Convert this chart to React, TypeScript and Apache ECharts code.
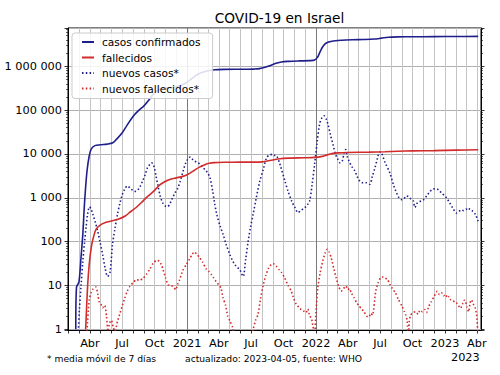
import React, { useEffect, useRef } from 'react';
import * as echarts from 'echarts';

const TITLE = 'COVID-19 en Israel';
const SERIES_NAMES = ['casos confirmados', 'fallecidos', 'nuevos casos*', 'nuevos fallecidos*'];
const MONTHS_ES = ['Ene', 'Feb', 'Mar', 'Abr', 'May', 'Jun', 'Jul', 'Ago', 'Sep', 'Oct', 'Nov', 'Dic'];
const FOOT_LEFT = '* media móvil de 7 días';
const FOOT_RIGHT = 'actualizado: 2023-04-05, fuente: WHO';
const YEAR_OFFSET = '2023';
const YEAR_LINES = ['2021-01-01', '2022-01-01'];

const casosConfirmados: [string, number][] = [
  ['2020-02-21', 1], ['2020-02-23', 9], ['2020-03-01', 12], ['2020-03-07', 45], ['2020-03-12', 150],
  ['2020-03-16', 600], ['2020-03-20', 1800], ['2020-03-24', 4200], ['2020-03-30', 9000], ['2020-04-05', 13000],
  ['2020-04-15', 15500], ['2020-05-01', 16200], ['2020-05-20', 16800], ['2020-06-05', 18000], ['2020-06-15', 21500],
  ['2020-07-01', 30000], ['2020-07-15', 45000], ['2020-08-01', 72000], ['2020-08-15', 95000], ['2020-09-01', 125000],
  ['2020-09-15', 170000], ['2020-10-01', 250000], ['2020-10-15', 295000], ['2020-11-01', 315000], ['2020-11-20', 330000],
  ['2020-12-10', 355000], ['2020-12-25', 400000], ['2021-01-10', 490000], ['2021-01-25', 610000], ['2021-02-10', 710000],
  ['2021-03-01', 790000], ['2021-03-20', 835000], ['2021-04-15', 852000], ['2021-06-20', 860000], ['2021-07-10', 866000],
  ['2021-07-25', 885000], ['2021-08-10', 950000], ['2021-08-25', 1050000], ['2021-09-10', 1170000], ['2021-09-25', 1260000],
  ['2021-10-15', 1300000], ['2021-11-15', 1330000], ['2021-12-15', 1350000], ['2021-12-28', 1400000], ['2022-01-05', 1600000],
  ['2022-01-12', 2100000], ['2022-01-20', 2800000], ['2022-01-30', 3400000], ['2022-02-15', 3750000], ['2022-03-15', 3950000],
  ['2022-04-15', 4050000], ['2022-05-15', 4100000], ['2022-06-15', 4200000], ['2022-07-05', 4400000], ['2022-07-25', 4620000],
  ['2022-08-20', 4700000], ['2022-10-01', 4730000], ['2022-12-01', 4770000], ['2023-02-01', 4800000], ['2023-04-05', 4820000],
];

const fallecidos: [string, number][] = [
  ['2020-03-20', 1], ['2020-03-25', 8], ['2020-03-30', 30], ['2020-04-05', 75], ['2020-04-12', 135],
  ['2020-04-19', 195], ['2020-05-01', 240], ['2020-05-15', 272], ['2020-06-01', 295], ['2020-06-20', 325],
  ['2020-07-10', 385], ['2020-07-25', 480], ['2020-08-10', 600], ['2020-08-25', 780], ['2020-09-10', 1050],
  ['2020-09-28', 1400], ['2020-10-15', 1950], ['2020-10-31', 2350], ['2020-11-15', 2650], ['2020-12-01', 2850],
  ['2020-12-20', 3080], ['2021-01-05', 3500], ['2021-01-20', 4150], ['2021-02-05', 5000], ['2021-02-20', 5700],
  ['2021-03-05', 6150], ['2021-03-20', 6350], ['2021-04-15', 6450], ['2021-06-01', 6500], ['2021-07-15', 6520],
  ['2021-08-01', 6600], ['2021-08-15', 6900], ['2021-09-01', 7300], ['2021-09-20', 7800], ['2021-10-15', 8050],
  ['2021-12-01', 8200], ['2021-12-28', 8350], ['2022-01-15', 8700], ['2022-01-30', 9400], ['2022-02-15', 10200],
  ['2022-03-05', 10600], ['2022-04-01', 10800], ['2022-06-01', 11000], ['2022-07-15', 11250], ['2022-08-20', 11550],
  ['2022-10-01', 11750], ['2022-12-01', 11950], ['2023-02-01', 12250], ['2023-04-05', 12450],
];

const nuevosCasos: [string, number][] = [
  ['2020-02-21', 0.5], ['2020-02-28', 1], ['2020-03-02', 2.6], ['2020-03-07', 10], ['2020-03-12', 36],
  ['2020-03-17', 100], ['2020-03-21', 210], ['2020-03-26', 450], ['2020-03-31', 620], ['2020-04-04', 560],
  ['2020-04-09', 430], ['2020-04-16', 280], ['2020-04-23', 175], ['2020-04-30', 95], ['2020-05-07', 51],
  ['2020-05-14', 25], ['2020-05-21', 16], ['2020-05-28', 20], ['2020-06-04', 86], ['2020-06-11', 200],
  ['2020-06-18', 420], ['2020-06-25', 750], ['2020-07-02', 1200], ['2020-07-09', 1600], ['2020-07-16', 1860],
  ['2020-07-24', 1650], ['2020-07-31', 1480], ['2020-08-07', 1400], ['2020-08-14', 1500], ['2020-08-21', 1800],
  ['2020-08-28', 2400], ['2020-09-04', 3300], ['2020-09-11', 4900], ['2020-09-18', 5800], ['2020-09-23', 6300],
  ['2020-09-27', 5600], ['2020-09-30', 5000], ['2020-10-05', 3200], ['2020-10-10', 2000], ['2020-10-17', 1100],
  ['2020-10-24', 770], ['2020-10-31', 650], ['2020-11-07', 630], ['2020-11-14', 750], ['2020-11-21', 1000],
  ['2020-11-28', 1300], ['2020-12-05', 1600], ['2020-12-12', 2300], ['2020-12-21', 4100], ['2020-12-28', 6200],
  ['2021-01-04', 7800], ['2021-01-10', 8500], ['2021-01-16', 7600], ['2021-01-22', 6900], ['2021-01-29', 6400],
  ['2021-02-05', 6000], ['2021-02-14', 5000], ['2021-02-24', 4100], ['2021-03-02', 3500], ['2021-03-07', 2870],
  ['2021-03-14', 1500], ['2021-03-20', 750], ['2021-03-26', 420], ['2021-04-05', 220], ['2021-04-13', 146],
  ['2021-04-22', 85], ['2021-05-02', 51], ['2021-05-09', 38], ['2021-05-16', 30], ['2021-05-23', 26],
  ['2021-05-30', 23], ['2021-06-05', 18], ['2021-06-09', 16], ['2021-06-16', 40], ['2021-06-23', 103],
  ['2021-06-30', 220], ['2021-07-07', 420], ['2021-07-16', 1000], ['2021-07-26', 2400], ['2021-08-05', 4500],
  ['2021-08-14', 8200], ['2021-08-23', 9500], ['2021-09-02', 9800], ['2021-09-07', 9200], ['2021-09-12', 9000],
  ['2021-09-21', 5800], ['2021-10-05', 2400], ['2021-10-14', 1400], ['2021-10-24', 850], ['2021-11-03', 580],
  ['2021-11-11', 460], ['2021-11-20', 520], ['2021-11-30', 590], ['2021-12-08', 700], ['2021-12-14', 850],
  ['2021-12-21', 2000], ['2021-12-28', 5800], ['2022-01-04', 18000], ['2022-01-11', 47500], ['2022-01-18', 68000],
  ['2022-01-24', 74000], ['2022-01-30', 62000], ['2022-02-04', 47000], ['2022-02-11', 27000], ['2022-02-18', 16500],
  ['2022-02-25', 10000], ['2022-03-04', 7500], ['2022-03-10', 6300], ['2022-03-16', 6800], ['2022-03-22', 11000],
  ['2022-03-26', 12600], ['2022-03-30', 9000], ['2022-04-04', 7000], ['2022-04-12', 5200], ['2022-04-21', 4100],
  ['2022-04-28', 3000], ['2022-05-05', 2400], ['2022-05-14', 2200], ['2022-05-24', 2200], ['2022-06-02', 2030],
  ['2022-06-09', 3000], ['2022-06-17', 4900], ['2022-06-24', 8000], ['2022-06-30', 11000], ['2022-07-05', 10700],
  ['2022-07-15', 6500], ['2022-07-29', 3700], ['2022-08-08', 2000], ['2022-08-17', 1290], ['2022-08-24', 1000],
  ['2022-08-31', 910], ['2022-09-07', 950], ['2022-09-13', 1100], ['2022-09-19', 1070], ['2022-09-26', 950],
  ['2022-10-03', 860], ['2022-10-08', 600], ['2022-10-14', 750], ['2022-10-22', 820], ['2022-11-01', 900],
  ['2022-11-10', 1100], ['2022-11-20', 1400], ['2022-11-28', 1580], ['2022-12-05', 1600], ['2022-12-12', 1550],
  ['2022-12-22', 1300], ['2023-01-05', 1000], ['2023-01-15', 750], ['2023-01-25', 550], ['2023-02-02', 450],
  ['2023-02-09', 480], ['2023-02-16', 530], ['2023-02-23', 510], ['2023-03-02', 550], ['2023-03-08', 520],
  ['2023-03-12', 560], ['2023-03-20', 500], ['2023-03-28', 420], ['2023-04-05', 290],
];

const nuevosFallecidos: [string, number][] = [
  ['2020-03-20', 0.5], ['2020-03-24', 1], ['2020-03-30', 4.7], ['2020-04-05', 7], ['2020-04-10', 8.3],
  ['2020-04-18', 9.2], ['2020-04-23', 6.5], ['2020-04-27', 4.3], ['2020-05-02', 3.8], ['2020-05-07', 3.1],
  ['2020-05-13', 3.5], ['2020-05-18', 2], ['2020-05-22', 0.9], ['2020-05-27', 1.4], ['2020-06-01', 1.6],
  ['2020-06-06', 1.1], ['2020-06-11', 0.9], ['2020-06-18', 1.5], ['2020-06-25', 2.3], ['2020-07-02', 3.5],
  ['2020-07-09', 5.2], ['2020-07-16', 7.5], ['2020-07-23', 9.5], ['2020-08-01', 11.5], ['2020-08-11', 13.5],
  ['2020-08-20', 13], ['2020-08-30', 14.7], ['2020-09-08', 18], ['2020-09-17', 23], ['2020-09-27', 32],
  ['2020-10-06', 37], ['2020-10-14', 36], ['2020-10-20', 30], ['2020-10-25', 23], ['2020-11-01', 15],
  ['2020-11-08', 10.4], ['2020-11-15', 10], ['2020-11-22', 9.5], ['2020-11-30', 8], ['2020-12-06', 11],
  ['2020-12-11', 13.5], ['2020-12-20', 22], ['2020-12-30', 30], ['2021-01-08', 40], ['2021-01-16', 52],
  ['2021-01-22', 58], ['2021-01-28', 52], ['2021-02-05', 44], ['2021-02-14', 34], ['2021-02-24', 24],
  ['2021-03-03', 21], ['2021-03-10', 18], ['2021-03-17', 15], ['2021-03-24', 12.3], ['2021-03-31', 10.5],
  ['2021-04-07', 8.7], ['2021-04-13', 5.2], ['2021-04-20', 3.5], ['2021-04-26', 2], ['2021-05-03', 1.5],
  ['2021-05-10', 1.1], ['2021-05-20', 0.5], ['2021-06-01', 0.4], ['2021-06-15', 0.4], ['2021-06-28', 0.5],
  ['2021-07-07', 1], ['2021-07-14', 1.6], ['2021-07-21', 2.2], ['2021-07-28', 5], ['2021-08-04', 9.7],
  ['2021-08-12', 17], ['2021-08-20', 25], ['2021-08-27', 30], ['2021-09-03', 31], ['2021-09-10', 28],
  ['2021-09-18', 23], ['2021-09-25', 20], ['2021-10-04', 15], ['2021-10-14', 10], ['2021-10-23', 7.4],
  ['2021-10-30', 5], ['2021-11-06', 3.7], ['2021-11-13', 3.2], ['2021-11-20', 2.8], ['2021-11-27', 2.6],
  ['2021-12-04', 2.4], ['2021-12-09', 2.9], ['2021-12-14', 2.0], ['2021-12-19', 1.8], ['2021-12-23', 1.2],
  ['2021-12-28', 0.8], ['2022-01-01', 2.5], ['2022-01-06', 8.9], ['2022-01-13', 20], ['2022-01-20', 36],
  ['2022-01-27', 55], ['2022-02-02', 67], ['2022-02-07', 58], ['2022-02-13', 43], ['2022-02-20', 25],
  ['2022-02-27', 15], ['2022-03-06', 9.5], ['2022-03-13', 7.4], ['2022-03-20', 8.5], ['2022-03-27', 9.7],
  ['2022-04-01', 8], ['2022-04-05', 8.5], ['2022-04-12', 6.5], ['2022-04-19', 5.2], ['2022-04-26', 4],
  ['2022-05-03', 3.4], ['2022-05-10', 2.9], ['2022-05-17', 2.5], ['2022-05-24', 2.0], ['2022-05-31', 1.9],
  ['2022-06-05', 2.3], ['2022-06-10', 2.1], ['2022-06-19', 7.4], ['2022-06-26', 11.5], ['2022-07-03', 15],
  ['2022-07-10', 15.5], ['2022-07-16', 14.5], ['2022-07-22', 14], ['2022-07-29', 10.5], ['2022-08-05', 8.5],
  ['2022-08-14', 6.7], ['2022-08-22', 4.8], ['2022-09-02', 3.3], ['2022-09-08', 2.5], ['2022-09-12', 2.1],
  ['2022-09-16', 1.6], ['2022-09-19', 0.6], ['2022-09-22', 1.5], ['2022-09-26', 2.1], ['2022-10-03', 2.4],
  ['2022-10-10', 2.5], ['2022-10-17', 2.2], ['2022-10-22', 2.7], ['2022-10-29', 2.5], ['2022-11-05', 2.8],
  ['2022-11-10', 2.4], ['2022-11-16', 3.3], ['2022-11-23', 4.2], ['2022-12-01', 5.6], ['2022-12-06', 6.5],
  ['2022-12-10', 7.3], ['2022-12-16', 6.2], ['2022-12-22', 6.8], ['2022-12-28', 5.8], ['2023-01-03', 6.2],
  ['2023-01-08', 5.2], ['2023-01-13', 5.6], ['2023-01-17', 4.7], ['2023-01-24', 4.5], ['2023-01-30', 4.0],
  ['2023-02-04', 3.9], ['2023-02-09', 3.4], ['2023-02-14', 3.0], ['2023-02-20', 3.8], ['2023-02-25', 4.6],
  ['2023-02-28', 4.4], ['2023-03-04', 3.2], ['2023-03-09', 2.5], ['2023-03-13', 4.0], ['2023-03-17', 4.7],
  ['2023-03-22', 3.8], ['2023-03-28', 3.0], ['2023-04-01', 2.0], ['2023-04-04', 0.8],
];

const X_MIN = '2020-01-30';
const X_MAX = '2023-04-13';
const Y_MIN = 0.96;
const Y_MAX = 7.5e6;

const BLUE = '#1f1f8c';
const RED = '#d22b2b';
const FONT = 'DejaVu Sans';
const DAY = 86400000;

function fmtNum(v: number): string {
  const r = Math.round(v);
  return String(r).replace(/\B(?=(\d{3})+(?!\d))/g, ' ');
}

function xLabel(value: number): string {
  const d = new Date(value);
  if (d.getDate() !== 1 || d.getHours() !== 0) return '';
  const m = d.getMonth();
  if (m === 0) return String(d.getFullYear());
  if (m % 3 === 0) return MONTHS_ES[m];
  return '';
}

export default function App() {
  const ref = useRef<HTMLDivElement>(null);
  useEffect(() => {
    if (!ref.current) return;
    const chart = echarts.init(ref.current, null, { renderer: 'svg' });
    const dotted = [1.5, 2.3];
    const yAxisBase = {
      type: 'log',
      logBase: 10,
      min: Y_MIN,
      max: Y_MAX,
      axisLine: { show: true, lineStyle: { color: '#000', width: 1 } },
      axisTick: { show: true, length: 3.5, lineStyle: { color: '#000', width: 0.8 } },
      minorTick: { show: true, splitNumber: 9, length: 2, lineStyle: { color: '#000', width: 0.6 } },
    };
    chart.setOption({
      animation: false,
      backgroundColor: '#fff',
      textStyle: { fontFamily: FONT },
      title: {
        text: TITLE,
        left: 274.5,
        textAlign: 'center',
        top: 6,
        textStyle: { fontFamily: FONT, fontSize: 13.7, fontWeight: 'normal', color: '#000' },
      },
      grid: {
        left: 68, right: 19, top: 28, bottom: 45,
        show: true, borderColor: '#000', borderWidth: 1, backgroundColor: 'transparent',
      },
      legend: {
        orient: 'vertical',
        left: 72,
        top: 33,
        z: 20,
        data: SERIES_NAMES,
        backgroundColor: 'rgba(255,255,255,0.85)',
        borderColor: '#cccccc',
        borderWidth: 1,
        borderRadius: 3,
        padding: [3, 12, 4, 9],
        itemWidth: 12,
        itemHeight: 10,
        itemGap: 3.5,
        itemStyle: { opacity: 0, borderWidth: 0 },
        textStyle: { fontFamily: FONT, fontSize: 10.6, color: '#000', lineHeight: 12, padding: [0, 0, 0, 3] },
      },
      xAxis: {
        type: 'time',
        min: X_MIN,
        max: X_MAX,
        minInterval: 30 * DAY,
        maxInterval: 30 * DAY,
        axisLine: { show: true, lineStyle: { color: '#000', width: 1 } },
        axisTick: { show: true, length: 3.5, lineStyle: { color: '#000', width: 0.8 } },
        axisLabel: {
          formatter: xLabel,
          color: '#000',
          fontFamily: FONT,
          fontSize: 11.3,
          margin: 8,
          hideOverlap: false,
          showMinLabel: false,
          showMaxLabel: false,
        },
        splitLine: { show: true, lineStyle: { color: '#c4c4c4', width: 1 } },
      },
      yAxis: [
        {
          ...yAxisBase,
          position: 'left',
          axisLabel: {
            formatter: fmtNum,
            color: '#000',
            fontFamily: FONT,
            fontSize: 11.3,
            margin: 6,
            showMinLabel: false,
            showMaxLabel: false,
          },
          splitLine: { show: true, lineStyle: { color: '#b0b0b0', width: 1 } },
        },
        {
          ...yAxisBase,
          position: 'right',
          axisLabel: { show: false },
          splitLine: { show: false },
        },
      ],
      series: [
        {
          name: SERIES_NAMES[0], type: 'line', data: casosConfirmados, symbol: 'none', smooth: 0.3,
          lineStyle: { color: BLUE, width: 1.6 }, itemStyle: { color: BLUE }, z: 3,
          markLine: {
            silent: true, symbol: 'none', label: { show: false }, z: 1,
            lineStyle: { color: '#7a7a7a', width: 1, type: 'solid' },
            data: YEAR_LINES.map((d) => ({ xAxis: d })),
          },
        },
        {
          name: SERIES_NAMES[1], type: 'line', data: fallecidos, symbol: 'none', smooth: 0.3,
          lineStyle: { color: RED, width: 1.6 }, itemStyle: { color: RED }, z: 3,
        },
        {
          name: SERIES_NAMES[2], type: 'line', data: nuevosCasos, symbol: 'none', smooth: 0.3,
          lineStyle: { color: BLUE, width: 1.6, type: dotted, cap: 'butt' }, itemStyle: { color: BLUE }, z: 2,
        },
        {
          name: SERIES_NAMES[3], type: 'line', data: nuevosFallecidos, symbol: 'none', smooth: 0.2,
          lineStyle: { color: RED, width: 1.6, type: dotted, cap: 'butt' }, itemStyle: { color: RED }, z: 2,
        },
      ],
      graphic: [
        { type: 'text', left: 47, top: 354, style: { text: FOOT_LEFT, font: `9.2px "${FONT}"`, fill: '#000' } },
        { type: 'text', left: 185, top: 354, style: { text: FOOT_RIGHT, font: `9.2px "${FONT}"`, fill: '#000' } },
        { type: 'text', left: 451, top: 352, style: { text: YEAR_OFFSET, font: `11.3px "${FONT}"`, fill: '#000' } },
      ],
    });
    return () => chart.dispose();
  }, []);
  return (
    <div
      ref={ref}
      style={{ position: 'fixed', left: 0, top: 0, width: 500, height: 375, background: '#fff' }}
    />
  );
}
